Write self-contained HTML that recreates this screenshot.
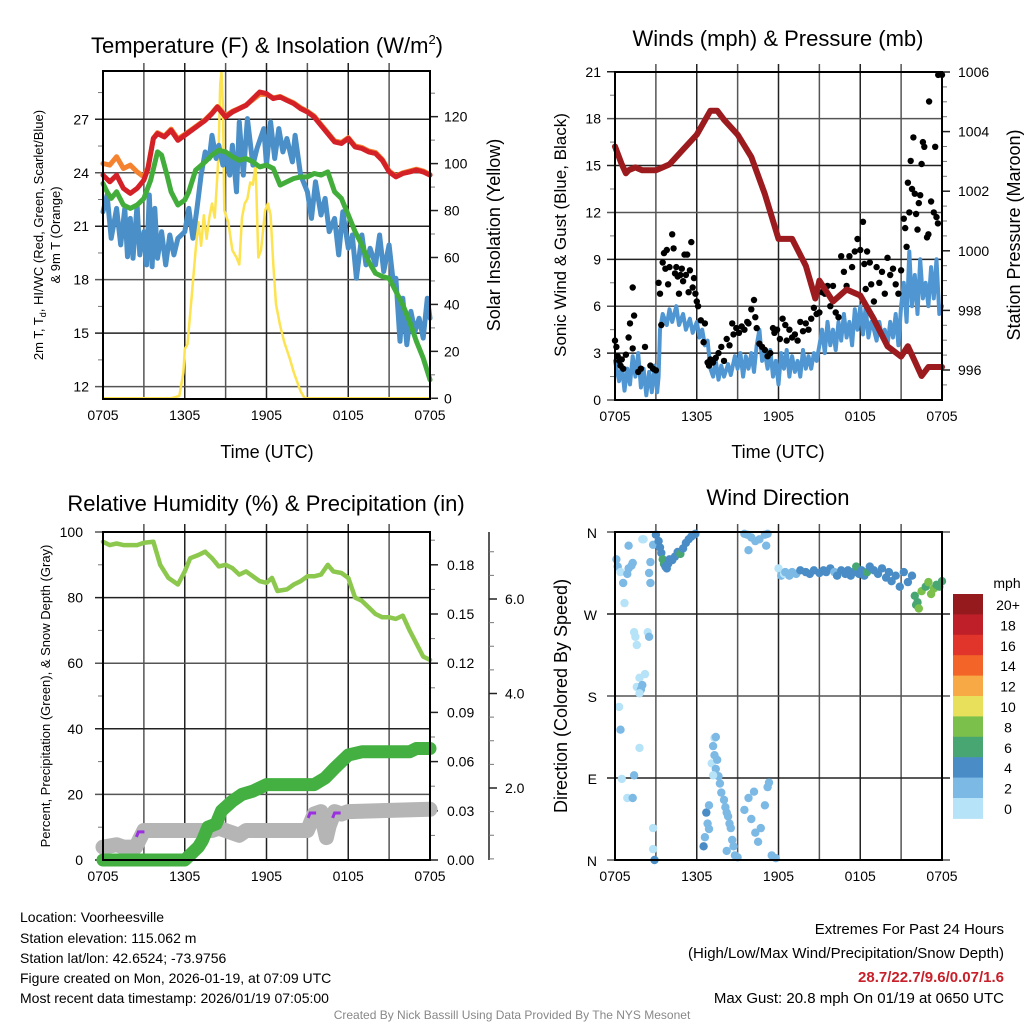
<!DOCTYPE html>
<html><head><meta charset="utf-8"><title>Voorheesville Meteogram</title>
<style>
html,body{margin:0;padding:0;background:#fff;}
svg{display:block;font-family:"Liberation Sans",Arial,sans-serif;}
</style></head>
<body>
<svg id="chart" width="1024" height="1024" viewBox="0 0 1024 1024" xmlns="http://www.w3.org/2000/svg">
<rect x="0" y="0" width="1024" height="1024" fill="#fff"/>
<!-- titles -->
<text x="267" y="53" font-size="22" text-anchor="middle">Temperature (F) &amp; Insolation (W/m<tspan font-size="13" dy="-9">2</tspan><tspan dy="9">)</tspan></text>
<text x="778" y="46" font-size="22" text-anchor="middle">Winds (mph) &amp; Pressure (mb)</text>
<text x="266" y="511" font-size="22" text-anchor="middle">Relative Humidity (%) &amp; Precipitation (in)</text>
<text x="778" y="505" font-size="22" text-anchor="middle">Wind Direction</text>
<text x="267" y="458" font-size="18" text-anchor="middle">Time (UTC)</text>
<text x="778" y="458" font-size="18" text-anchor="middle">Time (UTC)</text>
<!-- y titles -->
<text transform="translate(43,235) rotate(-90)" font-size="13" text-anchor="middle">2m T, T<tspan font-size="9" dy="3">d</tspan><tspan dy="-3">, HI/WC (Red, Green, Scarlet/Blue)</tspan></text>
<text transform="translate(60,235) rotate(-90)" font-size="13" text-anchor="middle">&amp; 9m T (Orange)</text>
<text transform="translate(500,235) rotate(-90)" font-size="18" text-anchor="middle">Solar Insolation (Yellow)</text>
<text transform="translate(566,235) rotate(-90)" font-size="17" text-anchor="middle">Sonic Wind &amp; Gust (Blue, Black)</text>
<text transform="translate(1020,235) rotate(-90)" font-size="18" text-anchor="middle">Station Pressure (Maroon)</text>
<text transform="translate(50,696) rotate(-90)" font-size="13" text-anchor="middle">Percent, Precipitation (Green), &amp; Snow Depth (Gray)</text>
<text transform="translate(567,696) rotate(-90)" font-size="18" text-anchor="middle">Direction (Colored By Speed)</text>
<!-- legend -->
<text x="1007" y="588" font-size="14" text-anchor="middle">mph</text>
<g id="legend"></g>
<!-- footer texts -->
<g font-size="14">
<text x="20" y="922">Location: Voorheesville</text>
<text x="20" y="943">Station elevation: 115.062 m</text>
<text x="20" y="963">Station lat/lon: 42.6524; -73.9756</text>
<text x="20" y="983">Figure created on Mon, 2026-01-19, at 07:09 UTC</text>
<text x="20" y="1003">Most recent data timestamp: 2026/01/19 07:05:00</text>
</g>
<g font-size="15" text-anchor="end">
<text x="1004" y="934">Extremes For Past 24 Hours</text>
<text x="1004" y="958">(High/Low/Max Wind/Precipitation/Snow Depth)</text>
<text x="1004" y="982" font-weight="bold" fill="#c8202a">28.7/22.7/9.6/0.07/1.6</text>
<text x="1004" y="1003">Max Gust: 20.8 mph On 01/19 at 0650 UTC</text>
</g>
<text x="512" y="1019" font-size="12" fill="#888" text-anchor="middle">Created By Nick Bassill Using Data Provided By The NYS Mesonet</text>
</svg>
<script>
// ---------- DATA (hours since 0705 UTC) ----------
const xLabels = ['0705','1305','1905','0105','0705'];
const tempTicks = [12,15,18,21,24,27];
const solarTicks = [0,20,40,60,80,100,120];
const windTicks = [0,3,6,9,12,15,18,21];
const presTicks = [996,998,1000,1002,1004,1006];
const rhTicks = [0,20,40,60,80,100];
const precipTicks = ['0.00','0.03','0.06','0.09','0.12','0.15','0.18'];
const snowTicks = ['2.0','4.0','6.0'];
const dirLabels = ['N','E','S','W','N'];
const speedLabels = ['0','2','4','6','8','10','12','14','16','18','20+'];

const redT = [0,0.5,1,1.5,2,2.5,3,3.3,3.7,4,4.5,5,5.5,6,6.5,7,7.5,8,8.4,8.6,9,9.5,10,10.5,11,11.5,12,12.5,13,13.5,14,14.5,15,15.5,16,16.5,17,17.5,18,18.5,19,19.5,20,20.5,21,21.5,22,22.5,23,23.5,24];
const redV = [23.87,23.49,23.87,23.12,22.84,23.12,23.59,24.24,25.92,26.2,26.01,26.38,25.82,26.1,26.38,26.66,26.94,27.32,27.69,27.5,27.13,27.41,27.6,27.78,28.16,28.53,28.44,28.16,28.25,28.06,27.88,27.6,27.41,27.13,26.66,26.2,25.73,25.64,25.92,25.45,25.36,25.17,25.08,24.7,24.05,23.77,23.96,24.05,24.15,24.05,23.87];
const orangeV = [24.52,24.43,24.9,24.24,24.43,24.05,23.77,24.3,25.95,26.25,26.05,26.45,25.9,26.15,26.42,26.7,26.98,27.36,27.72,27.56,27.2,27.45,27.62,27.8,28.1,28.4,28.4,28.2,28.28,28.1,27.92,27.65,27.45,27.18,26.7,26.25,25.78,25.7,25.97,25.5,25.42,25.22,25.14,24.75,24.1,23.82,24.0,24.1,24.2,24.1,23.9];
const greenT = [0,0.3,0.6,1,1.5,2,2.5,3,3.5,4,4.3,4.7,5,5.5,6,6.3,6.8,7.5,8,8.5,9,9.5,10,10.5,11,11.5,12,12.5,13,13.5,14,14.5,15,15.5,16,16.5,17,17.5,18,18.5,19,19.5,20,20.5,21,21.5,22,22.5,23,23.5,24];
const greenV = [23.4,22.93,22.56,22.93,22.19,22.0,22.19,22.56,23.59,25.17,24.99,23.87,22.93,22.19,22.47,22.93,24.15,24.61,24.99,25.26,25.17,24.9,24.7,24.8,24.61,24.33,24.43,24.24,23.31,23.49,23.68,23.77,23.77,23.96,23.87,24.05,22.93,22.56,21.63,20.69,19.95,19.01,18.36,18.18,18.08,17.34,16.59,15.66,14.54,13.6,12.39];
const blueT = [0,0.3,0.6,1,1.3,1.6,1.8,2,2.2,2.5,2.7,3,3.2,3.4,3.6,3.8,4,4.3,4.6,4.9,5.2,5.5,6,6.3,6.6,6.9,7.2,7.5,7.8,8,8.3,8.5,8.8,9,9.3,9.5,9.8,10,10.3,10.6,11,11.3,11.8,12,12.3,12.6,12.9,13.2,13.5,13.9,14.1,14.5,15,15.3,15.6,16,16.3,16.6,17,17.3,17.6,18,18.3,18.6,19,19.3,19.6,20,20.3,20.6,21,21.3,21.5,21.8,22,22.3,22.6,22.9,23.2,23.5,23.8,24];
const blueV = [21.81,22.75,20.32,22.0,19.95,22.0,19.29,21.44,19.2,22.19,19.39,20.69,18.83,22.75,18.73,22.0,19.2,20.69,18.83,20.51,19.39,20.32,20.69,22.0,20.32,22.0,23.87,25.17,24.8,26.1,24.8,25.54,24.43,25.17,23.87,25.54,22.93,26.85,23.87,27.04,24.43,25.36,26.48,24.43,26.85,24.8,26.48,25.17,25.92,24.61,26.1,23.87,22.93,21.44,23.49,21.63,22.56,20.69,21.44,19.39,21.81,19.76,20.51,18.08,20.51,18.83,19.76,18.83,20.51,18.46,19.95,17.9,18.08,14.54,16.96,14.35,16.22,15.1,15.84,14.72,16.96,15.84];
const solarT = [0,5,5.6,5.9,6,6.2,6.5,6.8,7,7.2,7.4,7.6,7.8,8,8.2,8.4,8.5,8.6,8.7,8.8,8.9,9.2,9.5,9.8,10,10.2,10.4,10.6,10.8,11,11.2,11.4,11.6,11.9,12.1,12.3,12.5,12.7,13,13.3,13.7,14,14.5,14.8,24];
const solarV = [0,0,1,11,21,23,43,63,75,65,78,68,77,83,77,95,108,134,139,125,80,75,63,60,57,77,83,85,92,91,100,60,63,80,83,78,57,40,31,24,17,11,3,0,0];

const presT = [0,0.5,0.8,1,1.5,2,3,3.5,4,5,6,7,7.5,8,9,10,11,12,13,14,14.7,15,16,17,18,19,20,21,21.5,22,22.5,23,24];
const presV = [1003.5,1002.9,1002.6,1002.7,1002.8,1002.7,1002.7,1002.8,1002.9,1003.4,1003.9,1004.7,1004.7,1004.4,1003.9,1003.15,1001.9,1000.4,1000.4,999.5,998.4,999.0,998.3,998.7,998.5,997.7,996.8,996.45,996.8,996.3,995.8,996.1,996.1];
const windT = [0,0.3,0.5,0.7,0.9,1.1,1.3,1.5,1.7,1.9,2.1,2.3,2.5,2.7,2.9,3.1,3.2,3.3,3.5,3.8,4,4.2,4.5,4.7,5,5.2,5.5,5.7,6,6.2,6.4,6.6,6.8,7,7.2,7.4,7.6,7.8,8,8.3,8.5,8.8,9,9.2,9.4,9.6,9.8,10,10.2,10.4,10.6,10.8,11,11.2,11.4,11.6,11.8,12,12.2,12.4,12.6,12.8,13,13.2,13.4,13.6,13.8,14,14.2,14.4,14.6,14.8,15,15.2,15.4,15.6,15.8,16,16.2,16.4,16.6,16.8,17,17.2,17.4,17.6,17.8,18,18.2,18.4,18.6,18.8,19,19.2,19.4,19.6,19.8,20,20.2,20.4,20.6,20.8,21,21.2,21.4,21.6,21.8,22,22.2,22.4,22.6,22.8,23,23.2,23.4,23.6,23.8,24];
const windV = [2.5,1.2,2.2,0.6,2.0,1.0,2.8,1.5,3.0,0.8,2.0,0.3,1.8,0.5,2.2,0.5,1.5,4.5,5.5,4.8,5.8,5.0,6.0,4.8,5.5,4.5,5.2,4.3,5.0,4.0,4.5,3.5,3.8,2.0,1.5,2.5,1.3,2.2,1.5,2.3,1.6,2.8,2.0,3.0,1.5,2.8,2.0,3.0,1.8,3.5,4.5,2.5,3.0,2.0,3.2,1.5,2.5,1.0,3.0,2.0,3.2,1.5,2.8,1.8,2.5,1.5,3.2,2.0,2.8,2.0,3.0,2.5,3.5,4.5,3.0,5.0,3.5,4.5,3.2,5.0,3.8,5.5,4.0,5.0,3.5,5.8,4.5,6.0,4.2,6.0,4.0,5.0,4.5,3.8,5.0,4.0,4.5,3.5,5.0,4.0,5.5,3.5,6.0,7.5,5.0,9.5,6.0,8.0,5.5,9.0,6.5,7.5,6.0,8.5,6.5,9.0,5.5,6.0];
const gustT = [0,0.1,0.2,0.3,0.4,0.5,0.6,0.8,1,1.1,1.3,1.3,1.4,1.7,1.9,2.2,2.6,2.8,3.0,3.2,3.3,3.4,3.5,3.6,3.7,3.8,3.9,4.0,4.2,4.3,4.4,4.5,4.6,4.7,4.8,4.9,5.0,5.1,5.2,5.3,5.4,5.5,5.6,5.7,5.8,5.9,6.0,6.1,6.3,6.5,6.6,6.8,6.9,7.0,7.2,7.4,7.6,7.8,8.0,8.2,8.4,8.6,8.7,8.9,9.1,9.3,9.5,9.7,9.8,10,10.2,10.3,10.4,10.6,10.8,11,11.2,11.4,11.6,11.7,11.9,12.1,12.3,12.5,12.6,12.8,13,13.2,13.4,13.6,13.8,14,14.2,14.4,14.6,14.8,15,15.2,15.4,15.6,15.8,16,16.2,16.4,16.6,16.8,17,17.2,17.4,17.6,17.8,18,18.2,18.3,18.4,18.5,18.7,18.8,19,19.2,19.4,19.6,19.8,20,20.2,20.4,20.6,20.8,21,21.2,21.3,21.4,21.5,21.6,21.7,21.8,21.9,22,22.1,22.2,22.3,22.4,22.5,22.6,22.7,23.05,22.9,23.0,23.2,23.4,23.5,23.6,23.7,23.72,24];
const gustV = [3.8,3.4,2.8,2.5,2.2,2.6,2.0,2.9,4.0,4.9,3.3,7.2,5.4,1.8,2.0,3.4,2.2,2.0,1.9,7.5,6.8,4.8,8.8,9.4,8.4,9.6,7.4,8.5,10.6,9.7,8.1,8.5,7.9,6.8,8.0,8.4,7.6,9.3,8.0,9.3,6.9,8.3,10.1,7.2,7.8,6.8,6.3,6.0,5.1,3.7,4.9,2.4,2.2,2.6,2.4,2.7,3.0,3.4,2.5,3.9,3.5,4.9,4.2,4.6,4.3,4.7,4.5,5.0,4.9,5.8,6.4,5.3,4.6,3.6,3.4,3.2,2.8,3.0,4.6,4.3,4.5,3.9,5.2,4.8,3.8,4.5,4.0,4.2,3.8,5.0,4.4,4.9,4.5,5.2,5.9,5.5,5.6,6.9,6.8,7.3,6.0,7.3,5.6,5.3,9.2,8.2,7.3,9.2,8.5,9.5,10.3,9.6,11.4,8.7,7.1,9.5,8.8,7.4,6.3,8.5,7.5,8.2,6.8,9.1,8.0,8.4,7.4,6.8,8.3,11.6,11.0,9.8,13.9,12.0,15.3,13.5,16.8,13.2,11.9,10.9,12.6,13.1,15.1,16.5,16.2,19.1,10.4,10.6,12.7,12.0,16.2,11.7,11.3,20.8,20.8,13.4];

const rhT = [0,0.5,1,1.5,2,2.5,3,3.7,4.2,4.8,5.5,6,6.4,7,7.5,8,8.5,9,9.5,10,10.5,11,11.5,12,12.4,12.8,13.5,14,14.5,15,15.5,16,16.5,16.9,17.5,18,18.5,19,19.5,20,20.5,21,21.5,22,22.5,23,23.5,24];
const rhV = [97,96,96.5,96,96,96,96.7,97,90,86,84,88,92,93,94,92,89.5,90,89,87,88,86.5,85,84.5,86,82,82.5,84,85,86.5,86.5,87,90,88,87.5,86,80,79,77,75,74,74,73.5,74.5,70,66,62,61];
const precipT = [0,6,6.5,7,7.3,7.7,8.3,8.7,9.5,10.2,11,12,15.5,16.3,17,18,19,22.5,23,24];
const precipV = [0,0,0.004,0.008,0.012,0.02,0.022,0.03,0.036,0.04,0.042,0.046,0.046,0.05,0.056,0.064,0.066,0.066,0.068,0.068];
const snowT = [0,1,1.5,2.4,3,8,8.5,10,10.5,15,15.5,16,16.2,16.4,16.6,17,17.5,18,24];
const snowV = [0.75,0.8,0.75,0.75,1.1,1.1,1.15,1.0,1.1,1.1,1.45,1.5,1.2,0.95,1.2,1.5,1.45,1.5,1.55];
const snowFlagT = [2.6,15.2,17.0];
const snowFlagV = [1.05,1.45,1.45];

const dirT = [0.1,0.2,0.4,0.6,0.7,0.9,1.0,1.2,1.3,1.0,2.0,2.1,2.6,2.6,2.5,2.8,1.4,1.5,1.6,2.4,2.5,1.8,1.6,1.9,2.0,2.2,1.8,0.3,0.4,1.8,0.5,1.4,0.9,1.3,2.8,2.8,2.9,3.0,3.2,3.3,3.4,3.5,3.6,3.7,3.8,3.9,4.0,4.2,4.4,4.6,4.8,5.0,5.2,5.4,5.6,5.8,5.9,6.7,6.8,6.9,6.6,6.5,6.9,7.1,7.2,7.3,7.4,7.3,7.5,7.4,7.6,7.7,7.2,7.8,8.0,8.1,8.2,8.3,8.4,8.5,8.6,8.7,8.2,8.8,9.0,9.5,9.8,10.0,10.2,10.3,10.5,10.7,11.0,11.2,11.3,11.5,11.8,9.5,9.7,10.0,10.3,10.6,11.0,11.2,9.8,11.1,12.0,12.2,12.4,12.5,12.8,13.0,13.3,13.6,14.0,14.3,14.6,15.0,15.3,15.5,15.8,16.1,16.3,16.6,16.9,17.1,17.3,17.5,17.7,17.9,18.1,18.3,18.5,18.7,19.0,19.3,19.6,19.9,20.1,20.3,20.6,20.9,21.2,21.5,21.8,22.0,22.1,22.2,22.3,22.5,22.8,23.0,23.2,23.4,23.6,23.8,24.0];
const dirV = [330,322,316,304,282,314,320,323,326,345,352,352,327,304,315,346,250,245,236,250,245,200,190,187,192,204,183,168,143,123,89,93,68,68,35,12,0,357,350,343,337,330,325,322,320,325,330,329,333,338,336,342,348,352,355,357,358,52,40,34,25,15,60,106,125,134,135,115,110,100,92,84,93,74,66,58,52,48,40,35,22,15,10,5,3,55,68,45,75,30,20,35,60,80,85,5,2,358,357,354,350,352,357,358,340,345,320,312,314,316,312,316,314,318,316,314,318,315,318,316,320,316,312,318,314,318,312,316,322,314,318,312,316,322,318,314,320,310,316,306,312,300,316,305,312,290,280,283,276,295,300,305,292,298,302,300,306];
const dirS = [3,3,1,2,1,2,2,3,2,3,1,1,2,2,3,2,1,1,1,1,2,1,1,2,3,1,1,1,3,1,1,3,1,3,1,1,4,5,4,4,4,6,6,5,4,4,4,4,4,4,6,4,4,4,4,4,4,4,3,3,3,5,3,1,2,1,2,3,2,3,3,2,1,3,3,3,2,2,3,2,3,2,3,2,2,2,3,2,2,2,3,2,2,2,2,2,2,3,3,3,3,2,3,3,2,2,1,2,1,2,2,2,3,4,4,4,4,4,4,4,4,3,4,4,4,5,4,5,6,5,4,5,6,4,4,4,5,4,5,4,5,5,5,4,4,6,7,6,9,8,7,8,8,8,7,6,7,7];
const speedColors = ['#b6e3f8','#7db9e5','#4a8dc6','#48a672','#7cc04c','#e8e05a','#f7a945','#f26428','#e1352b','#bf1f28','#951a1d'];

// ---------- AXIS FUNCTIONS ----------
const HW = 327/24;
const x1 = h => 103 + h*HW;
const x2 = h => 615 + h*HW;
const yT = v => 119.3 + (27 - v)*17.82;
const yS = w => 398.3 - w*2.347;
const yW = v => 400 - v*15.63;
const yP = mb => 370 - (mb - 996)*29.8;
const yRH = v => 860 - v*3.28;
const yPr = inch => 860 - inch/0.2*328;
const ySn = s => 882.5 - s*47.25;
const yD = d => 860 - d*328/360;

const svg = document.getElementById('chart');
const NS = 'http://www.w3.org/2000/svg';
function el(tag, attrs, parent){
  const e = document.createElementNS(NS, tag);
  for (const k in attrs) e.setAttribute(k, attrs[k]);
  (parent||svg).appendChild(e);
  return e;
}
function group(name){
  const g = el('g', {});
  
  
  return g;
}
function line(g, a, b, c, d, stroke, w){
  return el('line', {x1:a, y1:b, x2:c, y2:d, stroke:stroke, 'stroke-width':w}, g);
}
function txt(g, x, y, s, anchor, size){
  const t = el('text', {x:x, y:y, 'font-size':size||14, 'text-anchor':anchor||'middle'}, g);
  t.textContent = s;
  return t;
}
function poly(g, T, V, fx, fy, color, w, name){
  const pts = T.map((t,i)=> fx(t).toFixed(1)+','+fy(V[i]).toFixed(1)).join(' ');
  const p = el('polyline', {points:pts, fill:'none', stroke:color, 'stroke-width':w, 'stroke-linejoin':'round', 'stroke-linecap':'round'}, g);
  
  
  return p;
}

// generic frame with x grid
function frame(L, R, T, B, name, xfun){
  const g = group(name);
  for (let k=1;k<8;k++){
    const x = xfun(k*3);
    line(g, x, T-8, x, B, k%2? '#555':'#222', 1.5);
  }
  for (let k=0;k<xLabels.length;k++){
    const x = xfun(k*6);
    const t = txt(g, x, B+21, xLabels[k], 'middle', 14);
    
    
  }
  return g;
}
function border(L,R,T,B,name){
  const r = el('rect', {x:L, y:T, width:R-L, height:B-T, fill:'none', stroke:'#000', 'stroke-width':2});
  
  
}

// ---------- PANEL 1 ----------
(function(){
  const L=103,R=430,T=71,B=399;
  const g = frame(L,R,T,B,'temperature-grid',x1);
  tempTicks.forEach(v=>{
    line(g, L-8, yT(v), R, yT(v), v%2? '#222':'#555', 1.5);
    const t = txt(g, L-14, yT(v)+5, String(v), 'end', 14);
    
    
  });
  [13.5,16.5,19.5,22.5,25.5,28.5].forEach(v=> line(g, L-5, yT(v), L, yT(v), '#777', 1));
  solarTicks.forEach(v=>{
    line(g, R, yS(v), R+8, yS(v), '#222', 1.5);
    const t = txt(g, R+14, yS(v)+5, String(v), 'start', 14);
    
    
  });
  for (let v=10; v<=140; v+=20) line(g, R, yS(v), R+5, yS(v), '#777', 1);
  const s = group('temperature-series');
  poly(s, solarT, solarV, x1, yS, '#fde34f', 2.5, 'insolation-line');
  poly(s, blueT, blueV, x1, yT, '#4a8fc7', 5, 'heat-index-windchill-line');
  poly(s, greenT, greenV, x1, yT, '#43ad3c', 5, 'dewpoint-line');
  poly(s, redT, orangeV, x1, yT, '#f5822f', 5, 'temperature-9m-line');
  poly(s, redT, redV, x1, yT, '#d42027', 5, 'temperature-2m-line');
  border(L,R,T,B,'temperature-plot-frame');
})();

// ---------- PANEL 2 ----------
(function(){
  const L=615,R=942,T=72,B=400;
  const g = frame(L,R,T,B,'winds-grid',x2);
  windTicks.forEach(v=>{
    line(g, L-8, yW(v), R, yW(v), v%2? '#222':'#555', 1.5);
    const t = txt(g, L-14, yW(v)+5, String(v), 'end', 14);
    
    
  });
  [1.5,4.5,7.5,10.5,13.5,16.5,19.5].forEach(v=> line(g, L-5, yW(v), L, yW(v), '#777', 1));
  for (let mb=995.5; mb<=1006; mb+=0.5){
    const y = yP(mb);
    if (y < T-1 || y > B) continue;
    line(g, R, y, R+(mb%2===0?8:5), y, mb%2===0?'#222':'#777', mb%2===0?1.5:1);
  }
  presTicks.forEach(v=>{
    const t = txt(g, R+16, yP(v)+5, String(v), 'start', 14);
    
    
  });
  const s = group('winds-series');
  poly(s, windT, windV, x2, yW, '#4f96d2', 4, 'wind-speed-line');
  gustT.forEach((t,i)=>{
    const c = el('circle', {cx:x2(t).toFixed(1), cy:yW(gustV[i]).toFixed(1), r:3.2, fill:'#000'}, s);
    
    
  });
  poly(s, presT, presV, x2, yP, '#9b1b1e', 6, 'pressure-line');
  border(L,R,T,B,'winds-plot-frame');
})();

// ---------- PANEL 3 ----------
(function(){
  const L=103,R=430,T=532,B=860;
  const g = frame(L,R,T,B,'humidity-grid',x1);
  rhTicks.forEach(v=>{
    line(g, L-8, yRH(v), R, yRH(v), v%40===0? '#222':'#555', 1.5);
    const t = txt(g, L-20, yRH(v)+5, String(v), 'end', 14);
    
    
  });
  [10,30,50,70,90].forEach(v=> line(g, L-5, yRH(v), L, yRH(v), '#777', 1));
  for (let k=0;k<=13;k++){
    const v = k*0.015;
    line(g, R, yPr(v), R+(k%2===0?8:5), yPr(v), k%2===0?'#222':'#777', k%2===0?1.5:1);
  }
  precipTicks.forEach(v=>{
    const t = txt(g, R+17, yPr(parseFloat(v))+5, v, 'start', 14);
    
    
  });
  line(g, 489, T, 489, B, '#222', 1.5);
  for (let sv=0.5; sv<=7.0; sv+=0.5){
    const major = Math.abs(sv%2)<0.01;
    line(g, 489, ySn(sv), 489+(major?8:5), ySn(sv), major?'#222':'#777', major?1.5:1);
  }
  snowTicks.forEach(v=>{
    const t = txt(g, 505, ySn(parseFloat(v))+5, v, 'start', 14);
    
    
  });
  const s = group('humidity-series');
  poly(s, snowT, snowV, x1, ySn, '#b5b5b5', 15, 'snow-depth-line');
  poly(s, precipT, precipV, x1, yPr, '#43b041', 13, 'precipitation-line');
  poly(s, rhT, rhV, x1, yRH, '#8dc84e', 4.5, 'relative-humidity-line');
  snowFlagT.forEach((t,i)=>{
    const x = x1(t), y = ySn(snowFlagV[i]);
    const p = el('path', {d:`M${x-2},${y+4} L${x},${y-1} L${x+6},${y-1}`, fill:'none', stroke:'#9b30e0', 'stroke-width':3}, s);
    
    
  });
  border(L,R,T,B,'humidity-plot-frame');
})();

// ---------- PANEL 4 ----------
(function(){
  const L=615,R=942,T=532,B=860;
  const g = frame(L,R,T,B,'direction-grid',x2);
  dirLabels.forEach((d,k)=>{
    const y = yD(k*90);
    line(g, L-8, y, R+8, y, k%2? '#222':'#555', 1.5);
    const t = txt(g, L-18, y+6, d, 'end', 14);
    
    
  });
  const s = group('direction-points');
  dirT.forEach((t,i)=>{
    const idx = Math.min(10, Math.floor(dirS[i]/2));
    const c = el('circle', {cx:x2(t).toFixed(1), cy:yD(dirV[i]).toFixed(1), r:4.2, fill:speedColors[idx]}, s);
    
    
  });
  border(L,R,T,B,'direction-plot-frame');
})();

// ---------- LEGEND ----------
(function(){
  const lg = document.getElementById('legend');
  const top = 594, h = 20.4;
  speedLabels.slice().reverse().forEach((lab,k)=>{
    const col = speedColors[10-k];
    const r = el('rect', {x:953, y:top+k*h, width:30, height:h+0.5, fill:col}, lg);
    
    
    const t = txt(lg, 1008, top+k*h+16, lab, 'middle', 14);
    
    
  });
})();
</script>
</body></html>
